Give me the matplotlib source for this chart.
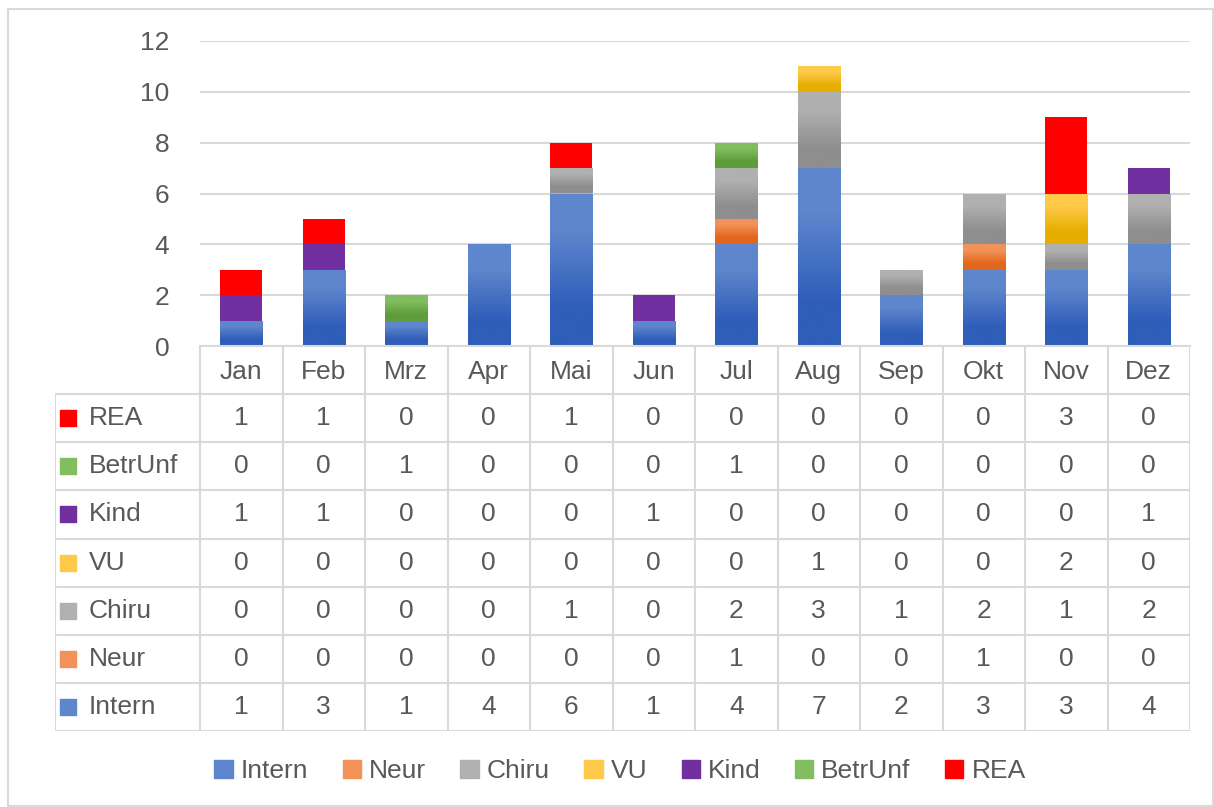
import numpy as np
import matplotlib.pyplot as plt
from matplotlib.colors import to_rgb
from matplotlib.patches import Rectangle

# Daten
months = ['Jan', 'Feb', 'Mrz', 'Apr', 'Mai', 'Jun', 'Jul', 'Aug', 'Sep', 'Okt', 'Nov', 'Dez']
series = ['Intern', 'Neur', 'Chiru', 'VU', 'Kind', 'BetrUnf', 'REA']
intern = [1, 3, 1, 4, 6, 1, 4, 7, 2, 3, 3, 4]
neur = [0, 0, 0, 0, 0, 0, 1, 0, 0, 1, 0, 0]
chiru = [0, 0, 0, 0, 1, 0, 2, 3, 1, 2, 1, 2]
vu = [0, 0, 0, 0, 0, 0, 0, 1, 0, 0, 2, 0]
kind = [1, 1, 0, 0, 0, 1, 0, 0, 0, 0, 0, 1]
betrunf = [0, 0, 1, 0, 0, 0, 1, 0, 0, 0, 0, 0]
rea = [1, 1, 0, 0, 1, 0, 0, 0, 0, 0, 3, 0]
values = [intern, neur, chiru, vu, kind, betrunf, rea]

# Farben (oben, unten) - Verlauf wie in Excel
colors = {
    'Intern': ('#5E86CD', '#2F5EB9'),
    'Neur': ('#F39258', '#E2671C'),
    'Chiru': ('#B0B0B0', '#8E8E8E'),
    'VU': ('#FFC94A', '#E6AE00'),
    'Kind': ('#7030A0', '#7030A0'),
    'BetrUnf': ('#82BD60', '#5F9C3A'),
    'REA': ('#FF0000', '#FF0000'),
}
legend_col = {k: v[0] for k, v in colors.items()}

W, H = 1214, 807
txt = '#595959'
line_c = '#D9D9D9'
fs = 19
plt.rcParams['font.family'] = ['Liberation Sans', 'DejaVu Sans']

fig = plt.figure(figsize=(W / 100, H / 100), dpi=100)
fig.patches.append(Rectangle((8 / W, 1 / H), 1 - 8 / W - 1 / W, 1 - 9 / H - 1 / H,
                             transform=fig.transFigure, fill=False,
                             edgecolor=line_c, linewidth=1.5))


def fx(px):
    return px / W


def fy(py):
    return 1 - py / H


# Diagramm
x_left, x_right = 200, 1190
y_zero, y_top = 346, 41
ax = fig.add_axes([fx(x_left), fy(y_zero), fx(x_right - x_left), fy(y_top) - fy(y_zero)])
x = np.arange(len(months))
bottom = np.zeros(len(months))
for name, vals in zip(series, values):
    bars = ax.bar(x, vals, width=0.51, bottom=bottom, color=legend_col[name], zorder=3)
    top_c, bot_c = colors[name]
    if top_c != bot_c:
        grad = np.array([[to_rgb(top_c)], [to_rgb(bot_c)]])
        for b in bars:
            if b.get_height() == 0:
                continue
            x0, y0 = b.get_x(), b.get_y()
            im = ax.imshow(grad, extent=(x0, x0 + b.get_width(), y0, y0 + b.get_height()),
                           aspect='auto', interpolation='bilinear', zorder=4, origin='upper')
            im.set_clip_path(b)
    bottom += np.array(vals)

ax.set_xlim(-0.5, len(months) - 0.5)
ax.set_ylim(0, 12)
ax.set_yticks(range(0, 13, 2))
ax.set_xticks([])
ax.tick_params(axis='y', length=0, pad=22, labelsize=fs, labelcolor=txt)
ax.grid(axis='y', color=line_c, linewidth=1.5, zorder=0)
for s in ['top', 'right', 'left']:
    ax.spines[s].set_visible(False)
ax.spines['bottom'].set_color(line_c)
ax.spines['bottom'].set_linewidth(1.5)
ax.spines['bottom'].set_zorder(5)

# Datentabelle
t_left, t_bottom = 55, 731
label_w = (x_left - t_left) / ((x_right - x_left) / len(months))
tab = fig.add_axes([fx(t_left), fy(t_bottom), fx(x_right - t_left), fy(y_zero) - fy(t_bottom)])
n_rows = len(series) + 1
tab.set_xlim(-0.5 - label_w, len(months) - 0.5)
tab.set_ylim(0, n_rows)
tab.axis('off')

# Linien
tab.hlines(range(0, n_rows), -0.5 - label_w, len(months) - 0.5, color=line_c, linewidth=1.5)
tab.vlines(np.arange(len(months) + 1) - 0.5, 0, n_rows, color=line_c, linewidth=1.5)
tab.vlines(-0.5 - label_w, 0, n_rows - 1, color=line_c, linewidth=1.5)

for i, m in enumerate(months):
    tab.text(i, n_rows - 0.55, m, ha='center', va='center', fontsize=fs, color=txt)

for r, (name, vals) in enumerate(zip(series, values)):
    yc = r + 0.5
    tab.scatter([-0.5 - label_w + 0.16], [yc], marker='s', s=120, color=legend_col[name])
    tab.text(-0.5 - label_w + 0.41, yc, name, ha='left', va='center', fontsize=fs, color=txt)
    for i, v in enumerate(vals):
        tab.text(i, yc, str(v), ha='center', va='center', fontsize=fs, color=txt)

# Legende
handles = [Rectangle((0, 0), 1, 1, color=legend_col[n]) for n in series]
fig.legend(handles, series, loc='center', bbox_to_anchor=(fx(620), fy(771)), ncol=len(series),
           frameon=False, fontsize=fs, labelcolor=txt, handlelength=0.7, handleheight=0.7,
           handletextpad=0.3, columnspacing=1.3)

fig.savefig('out.png', dpi=100)
